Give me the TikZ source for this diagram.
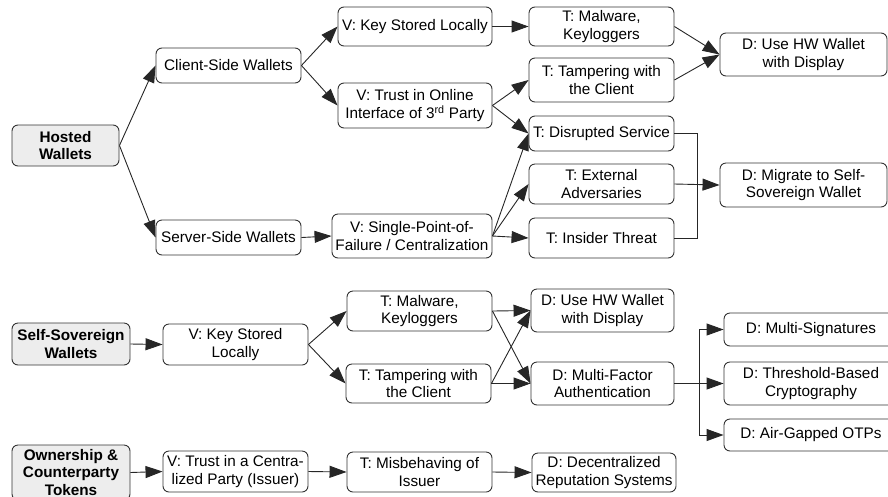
\documentclass[tikz,border=0pt]{standalone}
\usepackage{fontspec}
\setmainfont{Liberation Sans}
\usetikzlibrary{arrows.meta}
\newcommand{\lucid}{\fontsize{15.3}{17.8}\selectfont}
\tikzset{
	blk/.style={draw=black!80, line width=0.9pt, rounded corners=6pt, align=center, inner sep=0pt, fill=white, font=\lucid},
	grp/.style={blk, fill=black!7, font=\lucid\bfseries},
	sz/.style 2 args={minimum width=#1pt, minimum height=#2pt},
	lnk/.style={draw=black!85, line width=0.9pt},
}

\begin{document}
\begin{tikzpicture}[x=1pt, y=-1pt, >={Triangle[length=17pt,width=12pt]}]
		\useasboundingbox (0,0) rectangle (888,496);
		% hosted wallets
		\draw (65.5,145.5) node[grp, sz={107}{41}] (hw) {Hosted\\Wallets}
		(228.5,65.5) node[blk, sz={145}{35}] (csw) {Client-Side Wallets}
		(228.5,237.5) node[blk, sz={145}{35}] (ssw) {Server-Side Wallets}
		(415,26.5) node[blk, sz={154}{39}] (vkey) {V: Key Stored Locally}
		(415,105.5) node[blk, sz={154}{45}] (vtrust) {V: Trust in Online\\Interface of 3\textsuperscript{rd} Party}
		(412,236) node[blk, sz={160}{44}] (vspof) {V: Single-Point-of-\\Failure / Centralization}
		(601.5,26.5) node[blk, sz={145}{39}] (tmal) {T: Malware,\\Keyloggers}
		(601.5,80) node[blk, sz={145}{44}] (ttamp) {T: Tampering with\\the Client}
		(601.5,133.5) node[blk, sz={145}{35}] (tdis) {T: Disrupted Service}
		(601.5,184) node[blk, sz={145}{40}] (text) {T: External\\Adversaries}
		(601.5,238) node[blk, sz={145}{40}] (tins) {T: Insider Threat}
		(803.5,54.5) node[blk, sz={167}{43}] (dhw) {D: Use HW Wallet\\with Display}
		(803.5,185) node[blk, sz={167}{44}] (dmig) {D: Migrate to Self-\\Sovereign Wallet};
		% self-sovereign wallets
		\draw (71,344) node[grp, sz={118}{42}] (ssov) {Self-Sovereign\\Wallets}
		(235.5,344.5) node[blk, sz={145}{41}] (vkey2) {V: Key Stored\\Locally}
		(419.5,311) node[blk, sz={145}{40}] (tmal2) {T: Malware,\\Keyloggers}
		(418.5,383.5) node[blk, sz={145}{39}] (ttamp2) {T: Tampering with\\the Client}
		(602.5,310.5) node[blk, sz={143}{43}] (dhw2) {D: Use HW Wallet\\with Display}
		(602.5,383.5) node[blk, sz={143}{43}] (dmfa) {D: Multi-Factor\\Authentication}
		(811,329.5) node[blk, sz={174}{33}] (dmsig) {D: Multi-Signatures}
		(811,383.5) node[blk, sz={174}{43}] (dthr) {D: Threshold-Based\\Cryptography}
		(811,435) node[blk, sz={174}{32}] (dair) {D: Air-Gapped OTPs};
		% ownership tokens
		\draw (71,472.5) node[grp, sz={118}{55}, font=\fontsize{15.3}{17.2}\selectfont\bfseries] (own) {Ownership \&\\Counterparty\\Tokens}
		(235.5,471.5) node[blk, sz={145}{41}] (vcent) {V: Trust in a Centra-\\lized Party (Issuer)}
		(419.5,472) node[blk, sz={145}{40}] (tmis) {T: Misbehaving of\\Issuer}
		(604,472.5) node[blk, sz={144}{39}] (ddec) {D: Decentralized\\Reputation Systems};

		\coordinate (mj) at (697,184);
		\coordinate (fj) at (699,383.5);

		\draw[lnk, ->] (hw.east) -- (csw.west);
		\draw[lnk, ->] (hw.east) -- (ssw.west);
		\draw[lnk, ->] (csw.east) -- (vkey.west);
		\draw[lnk, ->] (csw.east) -- (vtrust.west);
		\draw[lnk, ->] (ssw.east) -- (vspof.west);
		\draw[lnk, ->] (vkey.east) -- (tmal.west);
		\draw[lnk, ->] (vtrust.east) -- (ttamp.west);
		\draw[lnk, ->] (vtrust.east) -- (tdis.west);
		\draw[lnk, ->] (vspof.east) -- (tdis.west);
		\draw[lnk, ->] (vspof.east) -- (text.west);
		\draw[lnk, ->] (vspof.east) -- (tins.west);
		\draw[lnk, ->] (tmal.east) -- (dhw.west);
		\draw[lnk, ->] (ttamp.east) -- (dhw.west);
		\draw[lnk] (tdis.east) -| (mj) |- (tins.east);
		\draw[lnk, ->] (text.east) -- (dmig.west);

		\draw[lnk, ->] (ssov.east) -- (vkey2.west);
		\draw[lnk, ->] (vkey2.east) -- (tmal2.west);
		\draw[lnk, ->] (vkey2.east) -- (ttamp2.west);
		\draw[lnk, ->] (tmal2.east) -- (dhw2.west);
		\draw[lnk, ->] (tmal2.east) -- (dmfa.west);
		\draw[lnk, ->] (ttamp2.east) -- (dhw2.west);
		\draw[lnk, ->] (ttamp2.east) -- (dmfa.west);
		\draw[lnk] (dmfa.east) -- (fj);
		\draw[lnk, ->] (fj) |- (dmsig.west);
		\draw[lnk, ->] (fj) -- (dthr.west);
		\draw[lnk, ->] (fj) |- (dair.west);

		\draw[lnk, ->] (own.east) -- (vcent.west);
		\draw[lnk, ->] (vcent.east) -- (tmis.west);
		\draw[lnk, ->] (tmis.east) -- (ddec.west);
	\end{tikzpicture}
\end{document}
